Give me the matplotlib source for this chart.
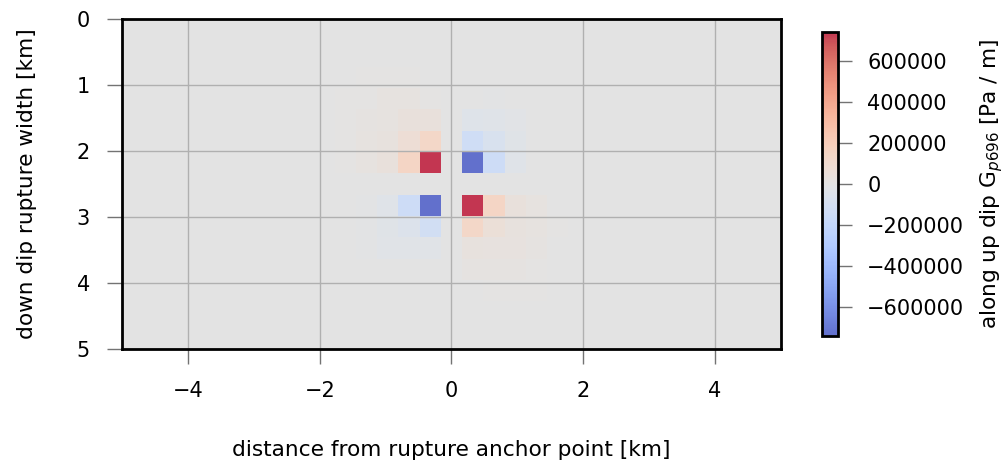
import numpy as np
import matplotlib
matplotlib.use("Agg")
import matplotlib.pyplot as plt
import matplotlib.colors as mcolors

# fault patch grid: 31 square cells along strike, rows centred on mid-width
n_strike    = 31
n_dip       = 17
L_half      = 5.0     # km, half length of plotted strike window
W           = 5.0     # km, rupture width
dx          = 2 * L_half / n_strike

# kernel values around the anchor cell (rows -6..6 down dip, cols -6..6 along strike) [Pa/m]
G_core = 1000 * np.array([
    #  -6   -5   -4   -3    -2    -1    0     1     2    3    4    5    6
    [   0,   0,   0,   0,    0,    0,   0,    0,    0,   0,   0,   0,   0],   # -6
    [   0,   0,   8,   8,    8,    3,   0,   -3,   -5,  -3,   0,   0,   0],   # -5
    [   0,   6,  10,  18,   18,   10,   0,   -5,   -8,  -5,   0,   0,   0],   # -4
    [   0,   8,  14,  22,   35,   40,   0,  -35,  -30, -15,  -3,   0,   0],   # -3
    [   3,  10,  18,  30,   75,  130,   0, -130,  -70, -25,  -5,   0,   0],   # -2
    [   0,   8,  20,  40,  150,  741,   0, -741, -140, -30,  -5,   0,   0],   # -1
    [   0,   0,   0,   0,    0,    0,   0,    0,    0,   0,   0,   0,   0],   #  0
    [   0,  -3,  -8, -30, -140, -741,   0,  741,  150,  40,  20,   5,   0],   #  1
    [   0,  -5,  -8, -25,  -50, -120,   0,  130,   60,  30,  20,   6,   0],   #  2
    [   0,  -5,  -8, -20,  -20,  -20,   0,   30,   25,  25,  15,   5,   0],   #  3
    [   0,  -3,  -5,  -5,   -5,   -5,   0,   12,   15,  15,  10,   3,   0],   #  4
    [   0,   0,  -3,  -3,   -3,   -3,   0,    3,    8,   8,   8,   0,   0],   #  5
    [   0,   0,   0,   0,    0,    0,   0,    0,    4,   4,   4,   0,   0],   #  6
])

G_p696 = np.zeros((n_dip, n_strike))
r0 = n_dip // 2 - 6
c0 = n_strike // 2 - 6
G_p696[r0:r0 + 13, c0:c0 + 13] = G_core

x_edges = np.linspace(-L_half, L_half, n_strike + 1)
y_edges = W / 2 + (np.arange(n_dip + 1) - n_dip / 2) * dx

fs_tick  = 15
fs_label = 15.6

fig = plt.figure(figsize=(10.04, 4.67), dpi=100)
ax  = fig.add_axes([122 / 1004, 1 - 349 / 467, 659 / 1004, 330 / 467])
cax = fig.add_axes([822 / 1004, 1 - 336 / 467, 16 / 1004, 304 / 467])

vmax = np.abs(G_p696).max()
divnorm = mcolors.Normalize(vmin=-vmax, vmax=vmax)
cb = ax.pcolormesh(x_edges, y_edges, G_p696, cmap='coolwarm', norm=divnorm, alpha=0.8)

ax.set_xlim(-L_half, L_half)
ax.set_ylim(W, 0)
ax.set_xticks([-4, -2, 0, 2, 4])
ax.set_yticks([0, 1, 2, 3, 4, 5])
ax.grid(True, color='#b0b0b0', linewidth=1.0)
ax.tick_params(length=11, width=1, color='0.45', pad=12, labelsize=fs_tick)
for sp in ax.spines.values():
    sp.set_linewidth(2)
ax.set_xlabel('distance from rupture anchor point [km]', labelpad=28, fontsize=fs_label)
ax.set_ylabel('down dip rupture width [km]', labelpad=29, fontsize=fs_label)

cbar = fig.colorbar(cb, cax=cax)
cbar.set_ticks([-600000, -400000, -200000, 0, 200000, 400000, 600000])
cbar.ax.tick_params(length=10, width=1, color='0.45', pad=11, labelsize=fs_tick)
cbar.outline.set_linewidth(2)
cbar.set_label('along up dip G$_{p696}$ [Pa / m]', labelpad=10, fontsize=fs_label)

fig.savefig('out.png', dpi=100)
